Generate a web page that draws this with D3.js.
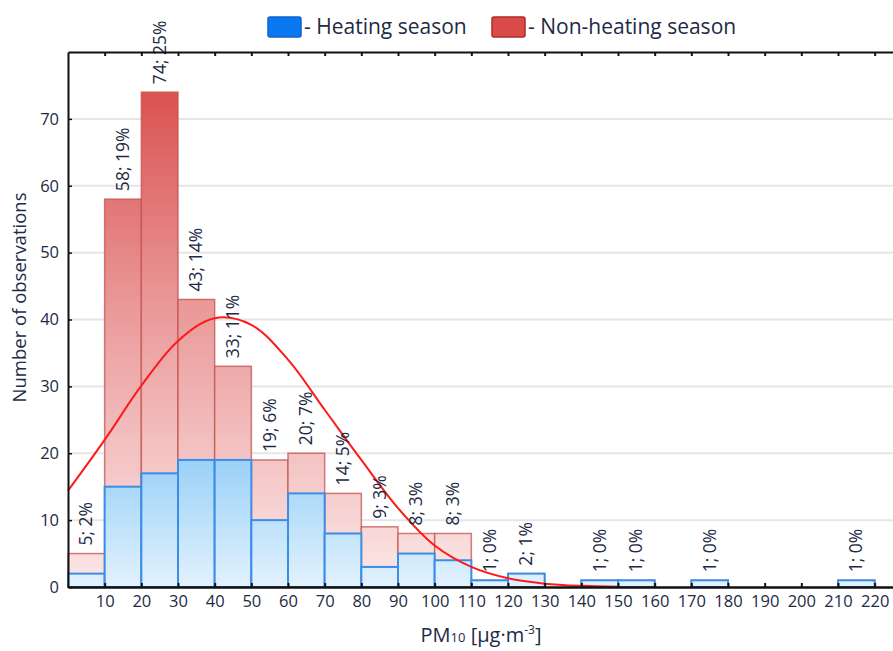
<!DOCTYPE html>
<html>
<head>
<meta charset="utf-8">
<script src="https://cdn.jsdelivr.net/npm/d3@7"></script>
<style>
  body { margin: 0; background: #fff; }
  svg text { font-family: "Open Sans", "Noto Sans", sans-serif; fill: #1d2a44; }
</style>
</head>
<body>
<div id="chart"></div>
<script>
// bins of 10 ug/m3, lower edges
var binStarts = [0, 10, 20, 30, 40, 50, 60, 70, 80, 90, 100, 110, 120, 130, 140, 150, 160, 170, 180, 190, 200, 210];
var nonHeating = [5, 58, 74, 43, 33, 19, 20, 14, 9, 8, 8, 1, 2, 0, 1, 1, 0, 1, 0, 0, 0, 1];
var nonHeatingPct = [2, 19, 25, 14, 11, 6, 7, 5, 3, 3, 3, 0, 1, 0, 0, 0, 0, 0, 0, 0, 0, 0];
var heating = [2, 15, 17, 19, 19, 10, 14, 8, 3, 5, 4, 1, 2, 0, 1, 1, 0, 1, 0, 0, 0, 1];
// fitted curve
var curveX = [0, 10, 20, 30, 40, 50, 60, 70, 80, 90, 100, 110, 120, 130, 140, 150];
var curveY = [14.4, 22.0, 30.1, 36.8, 40.2, 39.2, 34.0, 26.5, 19.0, 11.8, 6.2, 3.0, 1.3, 0.5, 0.17, 0.05];
var xTicks = [10, 20, 30, 40, 50, 60, 70, 80, 90, 100, 110, 120, 130, 140, 150, 160, 170, 180, 190, 200, 210, 220];
var yTicks = [0, 10, 20, 30, 40, 50, 60, 70];
var binWidth = 10;

var margin = { top: 52, right: 0, bottom: 64, left: 68 },
    width = 893, height = 651;

var svg = d3.select("#chart").append("svg")
    .attr("width", width)
    .attr("height", height);

var x = d3.scaleLinear().domain([0, 225]).range([margin.left, width]);
var y = d3.scaleLinear().domain([0, 80]).range([height - margin.bottom, margin.top]);
var y0 = y(0);

var defs = svg.append("defs");
var redGrad = defs.append("linearGradient").attr("id", "redGrad")
    .attr("gradientUnits", "userSpaceOnUse")
    .attr("x1", 0).attr("x2", 0).attr("y1", y(75)).attr("y2", y(0));
redGrad.append("stop").attr("offset", "0%").attr("stop-color", "#d9514f");
redGrad.append("stop").attr("offset", "45%").attr("stop-color", "#ea9a9a");
redGrad.append("stop").attr("offset", "100%").attr("stop-color", "#fce8e8");

var blueGrad = defs.append("linearGradient").attr("id", "blueGrad")
    .attr("gradientUnits", "userSpaceOnUse")
    .attr("x1", 0).attr("x2", 0).attr("y1", y(20)).attr("y2", y(0));
blueGrad.append("stop").attr("offset", "0%").attr("stop-color", "#96cff8");
blueGrad.append("stop").attr("offset", "100%").attr("stop-color", "#e3f2fd");

// grid
svg.append("g").selectAll("line")
    .data(yTicks.filter(function (d) { return d > 0; }))
    .enter().append("line")
    .attr("x1", margin.left).attr("x2", width)
    .attr("y1", function (d) { return y(d); })
    .attr("y2", function (d) { return y(d); })
    .attr("stroke", "#e6e6e6")
    .attr("stroke-width", 2);

// non-heating bars (behind)
svg.append("g").selectAll("rect")
    .data(binStarts.map(function (b, i) { return { b: b, v: nonHeating[i] }; }).filter(function (d) { return d.v > 0; }))
    .enter().append("rect")
    .attr("x", function (d) { return x(d.b); })
    .attr("width", function (d) { return x(d.b + binWidth) - x(d.b); })
    .attr("y", function (d) { return y(d.v); })
    .attr("height", function (d) { return y0 - y(d.v); })
    .attr("fill", "url(#redGrad)")
    .attr("stroke", "#c4524f")
    .attr("stroke-opacity", 0.75)
    .attr("stroke-width", 1.5);

// heating bars
svg.append("g").selectAll("rect")
    .data(binStarts.map(function (b, i) { return { b: b, v: heating[i] }; }).filter(function (d) { return d.v > 0; }))
    .enter().append("rect")
    .attr("x", function (d) { return x(d.b); })
    .attr("width", function (d) { return x(d.b + binWidth) - x(d.b); })
    .attr("y", function (d) { return y(d.v); })
    .attr("height", function (d) { return y0 - y(d.v); })
    .attr("fill", "url(#blueGrad)")
    .attr("stroke", "#3b8de6")
    .attr("stroke-width", 2);

// fitted curve
var line = d3.line()
    .x(function (d) { return x(d[0]); })
    .y(function (d) { return y(d[1]); })
    .curve(d3.curveCatmullRom);
svg.append("path")
    .datum(curveX.map(function (v, i) { return [v, curveY[i]]; }))
    .attr("d", line)
    .attr("fill", "none")
    .attr("stroke", "#ff1a1a")
    .attr("stroke-width", 2);

// bar labels
svg.append("g").selectAll("text")
    .data(binStarts.map(function (b, i) { return { b: b, v: nonHeating[i], p: nonHeatingPct[i] }; }).filter(function (d) { return d.v > 0; }))
    .enter().append("text")
    .attr("transform", function (d) {
        return "translate(" + (x(d.b + binWidth / 2) + 6) + "," + (y(d.v) - 8) + ") rotate(-90)";
    })
    .attr("font-size", "17.5px")
    .text(function (d) { return d.v + "; " + d.p + "%"; });

// axes
var xAxis = d3.axisBottom(x).tickValues(xTicks).tickSizeInner(-4).tickSizeOuter(0).tickPadding(8);
var gx = svg.append("g").attr("transform", "translate(0," + y0 + ")").call(xAxis);
gx.select(".domain").attr("stroke", "#111").attr("stroke-width", 2.5);
gx.selectAll(".tick line").attr("stroke", "#111").attr("stroke-width", 2);
gx.selectAll("text").attr("font-size", "16.5px").attr("font-family", null).attr("fill", "#1d2a44");

var xTop = d3.axisTop(x).tickValues(xTicks).tickSizeInner(-4).tickSizeOuter(0).tickFormat("");
var gt = svg.append("g").attr("transform", "translate(0," + margin.top + ")").call(xTop);
gt.select(".domain").attr("stroke", "#111").attr("stroke-width", 2);
gt.selectAll(".tick line").attr("stroke", "#111").attr("stroke-width", 2);

var yAxis = d3.axisLeft(y).tickValues(yTicks).tickSizeInner(-4).tickSizeOuter(0).tickPadding(9);
var gy = svg.append("g").attr("transform", "translate(" + margin.left + ",0)").call(yAxis);
gy.select(".domain").attr("stroke", "#111").attr("stroke-width", 2);
gy.selectAll(".tick line").attr("stroke", "#111").attr("stroke-width", 1.5);
gy.selectAll("text").attr("font-size", "16.5px").attr("font-family", null).attr("fill", "#1d2a44");

// axis titles
svg.append("text")
    .attr("transform", "translate(26," + (y(40) - 22) + ") rotate(-90)")
    .attr("text-anchor", "middle")
    .attr("font-size", "18.5px")
    .text("Number of observations");

var xt = svg.append("text")
    .attr("x", 481).attr("y", 642)
    .attr("text-anchor", "middle")
    .attr("font-size", "20px");
xt.append("tspan").text("PM");
xt.append("tspan").attr("font-size", "13px").text("10");
xt.append("tspan").text(" [µg·m");
xt.append("tspan").attr("font-size", "12px").attr("dy", "-8").text("-3");
xt.append("tspan").attr("dy", "8").text("]");

// legend
var legend = [{ name: "- Heating season", fill: "#0a78f0", stroke: "#1462c8", x: 268 },
              { name: "- Non-heating season", fill: "#d94b48", stroke: "#b02a2a", x: 492 }];
var lg = svg.append("g").selectAll("g").data(legend).enter().append("g")
    .attr("transform", function (d) { return "translate(" + d.x + ",17)"; });
lg.append("rect")
    .attr("width", 33).attr("height", 20).attr("rx", 2)
    .attr("fill", function (d) { return d.fill; })
    .attr("stroke", function (d) { return d.stroke; })
    .attr("stroke-width", 1.5);
lg.append("text")
    .attr("x", 36).attr("y", 17)
    .attr("font-size", "21px")
    .text(function (d) { return d.name; });
</script>
</body>
</html>
